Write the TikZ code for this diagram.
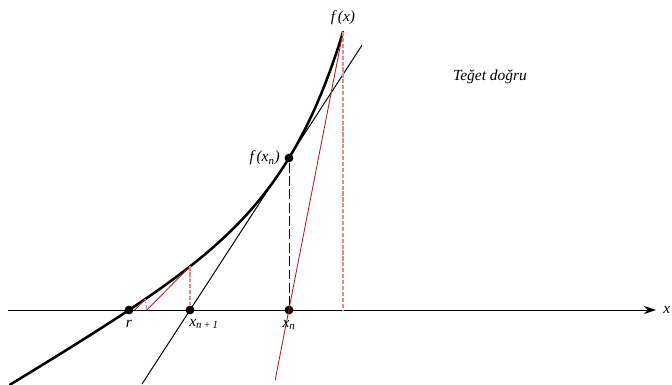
\documentclass[tikz,border=0pt]{standalone}
\usepackage{fontspec}
\setmainfont{Liberation Serif}
\usetikzlibrary{arrows.meta,positioning}
\definecolor{newtonred}{RGB}{175,25,30}
\definecolor{dropred}{RGB}{222,140,140}

\begin{document}
\begin{tikzpicture}[x=1cm,y=1cm]
\tikzset{
  rootdot/.style={circle,fill=black,minimum size=2.2mm,inner sep=0pt},
  ptlabel/.style={font=\itshape\fontsize{11}{13}\selectfont,inner sep=1pt},
  curveline/.style={draw=black,line width=1.8pt,line cap=round,line join=round},
  tangentline/.style={draw=black,line width=0.7pt},
  redline/.style={draw=newtonred,line width=0.6pt},
  dropline/.style={draw=black,line width=0.6pt,dash pattern=on 7pt off 2.5pt},
  dropredline/.style={draw=dropred,line width=0.8pt,dash pattern=on 3pt off 1.2pt},
  axisline/.style={draw=black,line width=0.7pt,-{Stealth[length=3mm,width=2mm]}}
}
\useasboundingbox (0,0) rectangle (16.8,9.6);
\coordinate (n_a0) at (0.2,1.85);
\coordinate (n_a1) at (16.4,1.85);
\node[rootdot] (n_r) at (3.225,1.85) {};
\node[rootdot] (n_xn1) at (4.75,1.85) {};
\node[rootdot] (n_xn) at (7.225,1.85) {};
\node[rootdot] (n_fxn) at (7.225,5.65) {};
\coordinate (n_fx) at (8.575,8.8);
\coordinate (n_fx0) at (8.575,1.85);
\coordinate (n_c1) at (4.75,2.94);
\coordinate (n_c2) at (3.63,2.12);
\coordinate (n_x2) at (3.67,1.85);
\coordinate (n_x3) at (3.37,1.85);
\coordinate (n_t0) at (3.55,0);
\coordinate (n_t1) at (9.05,8.47);
\coordinate (n_s0) at (6.88,0.1);
% axis and curve
\draw[axisline] (n_a0) -- (n_a1);
\draw[curveline] plot[domain=0.25:8.575,samples=90]
  (\x,{1.85+0.0904*(exp(0.7*(\x-3.225))-1)+0.601*(\x-3.225)});
% tangents
\draw[tangentline] (n_t0) -- (n_t1);
\draw[redline] (n_s0) -- (n_fx);
\draw[redline] (n_c1) -- (n_x2);
\draw[redline] (n_c2) -- (n_x3);
% drop lines
\draw[dropline] (n_fxn) -- (n_xn);
\draw[dropredline] (n_fx) -- (n_fx0);
\draw[dropredline] (n_c1) -- (n_xn1);
\draw[dropredline] (n_c2) -- (n_x2);
% labels
\node[ptlabel,below=3pt of n_r] (l_r) {r};
\node[ptlabel,below right=3pt and -4pt of n_xn1] (l_xn1) {x\textsubscript{\itshape n\,+\,1}};
\node[ptlabel,below=3pt of n_xn] (l_xn) {x\textsubscript{\itshape n}};
\node[ptlabel,left=2pt of n_fxn] (l_fxn) {f\,(x\textsubscript{\itshape n})};
\node[ptlabel,above=4pt of n_fx] (l_fx) {f\,(x)};
\node[ptlabel,right=4pt of n_a1] (l_x) {x};
\node[ptlabel] (l_teget) at (12.25,7.675) {Teğet doğru};
\end{tikzpicture}
\end{document}
